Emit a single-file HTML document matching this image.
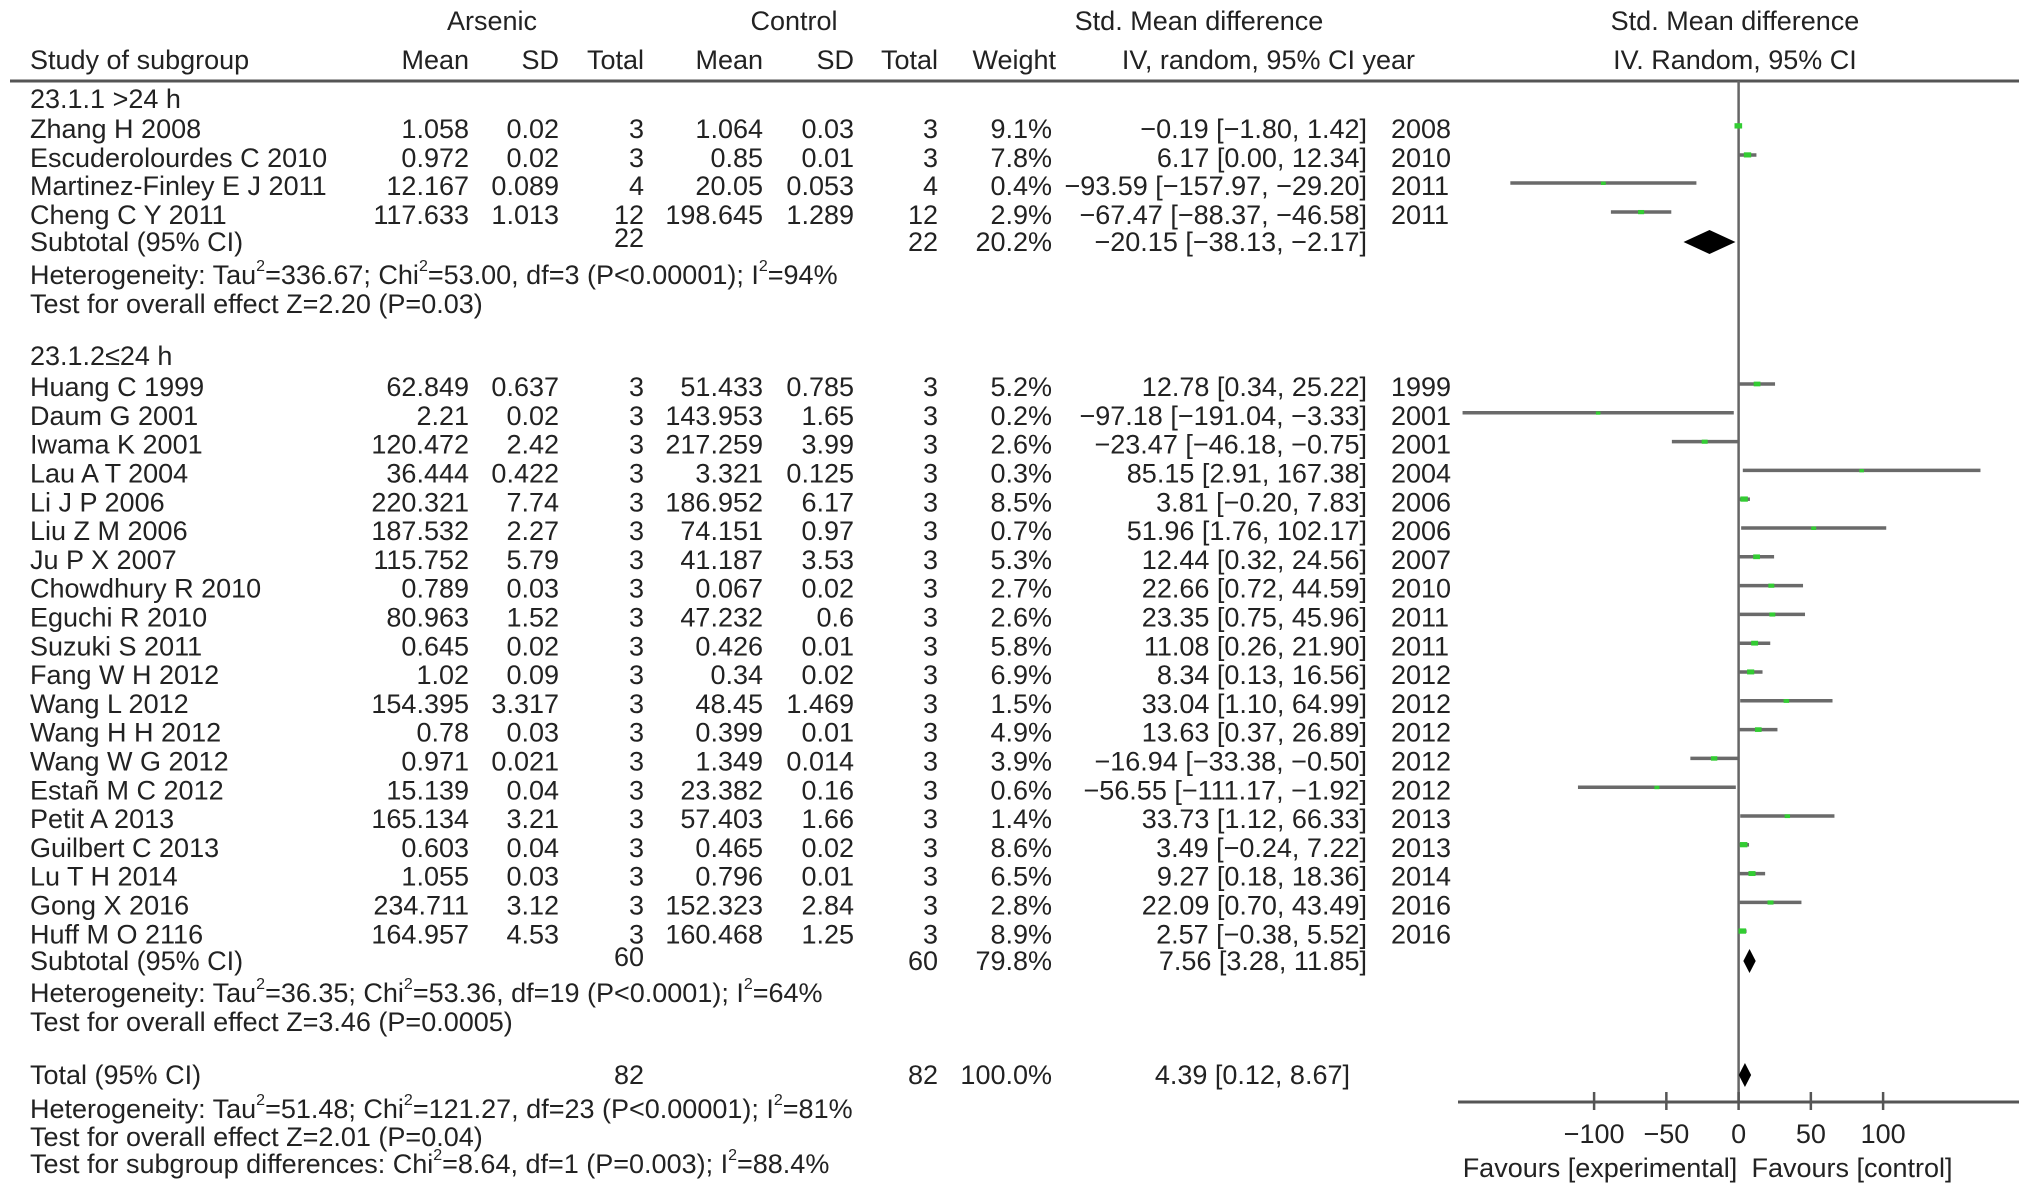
<!DOCTYPE html>
<html><head><meta charset="utf-8"><style>
html,body{margin:0;padding:0;background:#fff;}
svg{display:block;font-family:"Liberation Sans",Arial,sans-serif;}
text{fill:#222;font-size:27px;}
</style></head><body>
<svg id="fp" width="2032" height="1197" viewBox="0 0 2032 1197"></svg>
<script>
const studies=["Zhang H 2008","Escuderolourdes C 2010","Martinez-Finley E J 2011","Cheng C Y 2011",
"Huang C 1999","Daum G 2001","Iwama K 2001","Lau A T 2004","Li J P 2006","Liu Z M 2006","Ju P X 2007","Chowdhury R 2010","Eguchi R 2010","Suzuki S 2011","Fang W H 2012","Wang L 2012","Wang H H 2012","Wang W G 2012","Estañ M C 2012","Petit A 2013","Guilbert C 2013","Lu T H 2014","Gong X 2016","Huff M O 2116"];
const aMean=["1.058","0.972","12.167","117.633","62.849","2.21","120.472","36.444","220.321","187.532","115.752","0.789","80.963","0.645","1.02","154.395","0.78","0.971","15.139","165.134","0.603","1.055","234.711","164.957"];
const aSD=["0.02","0.02","0.089","1.013","0.637","0.02","2.42","0.422","7.74","2.27","5.79","0.03","1.52","0.02","0.09","3.317","0.03","0.021","0.04","3.21","0.04","0.03","3.12","4.53"];
const aN=[3,3,4,12,3,3,3,3,3,3,3,3,3,3,3,3,3,3,3,3,3,3,3,3];
const cMean=["1.064","0.85","20.05","198.645","51.433","143.953","217.259","3.321","186.952","74.151","41.187","0.067","47.232","0.426","0.34","48.45","0.399","1.349","23.382","57.403","0.465","0.796","152.323","160.468"];
const cSD=["0.03","0.01","0.053","1.289","0.785","1.65","3.99","0.125","6.17","0.97","3.53","0.02","0.6","0.01","0.02","1.469","0.01","0.014","0.16","1.66","0.02","0.01","2.84","1.25"];
const cN=[3,3,4,12,3,3,3,3,3,3,3,3,3,3,3,3,3,3,3,3,3,3,3,3];
const weights=[9.1,7.8,0.4,2.9,5.2,0.2,2.6,0.3,8.5,0.7,5.3,2.7,2.6,5.8,6.9,1.5,4.9,3.9,0.6,1.4,8.6,6.5,2.8,8.9];
const est=[-0.19,6.17,-93.59,-67.47,12.78,-97.18,-23.47,85.15,3.81,51.96,12.44,22.66,23.35,11.08,8.34,33.04,13.63,-16.94,-56.55,33.73,3.49,9.27,22.09,2.57];
const lo=[-1.80,0.00,-157.97,-88.37,0.34,-191.04,-46.18,2.91,-0.20,1.76,0.32,0.72,0.75,0.26,0.13,1.10,0.37,-33.38,-111.17,1.12,-0.24,0.18,0.70,-0.38];
const hi=[1.42,12.34,-29.20,-46.58,25.22,-3.33,-0.75,167.38,7.83,102.17,24.56,44.59,45.96,21.90,16.56,64.99,26.89,-0.50,-1.92,66.33,7.22,18.36,43.49,5.52];
const years=[2008,2010,2011,2011,1999,2001,2001,2004,2006,2006,2007,2010,2011,2011,2012,2012,2012,2012,2012,2013,2013,2014,2016,2016];
const summaryLabels=["Subtotal (95% CI)","Subtotal (95% CI)","Total (95% CI)"];
const summaryN=[22,60,82];
const summaryW=["20.2%","79.8%","100.0%"];
const summaryEst=[-20.15,7.56,4.39];
const summaryLo=[-38.13,3.28,0.12];
const summaryHi=[-2.17,11.85,8.67];
const ticks=[-100,-50,0,50,100];

const svg=document.getElementById('fp');
const NS='http://www.w3.org/2000/svg';
const X0=1738.6, PX=1.445;
function xs(v){return X0+v*PX;}
function fmt(v){return (v<0?'\u2212':'')+Math.abs(v).toFixed(2);}
function el(tag,attrs,txt){const e=document.createElementNS(NS,tag);for(const k in attrs)e.setAttribute(k,attrs[k]);if(txt!==undefined)e.textContent=txt;svg.appendChild(e);return e;}
function t(x,y,s,anchor,name){const e=el('text',{x:x,y:y,'text-anchor':anchor||'start','dominant-baseline':'middle'},s);


return e;}
function tsup(x,y,parts,name){const e=el('text',{x:x,y:y,'dominant-baseline':'middle'});


parts.forEach(p=>{const s=document.createElementNS(NS,'tspan');if(p[1]){s.setAttribute('font-size','16');s.setAttribute('dy','-10');}else if(p[2]){s.setAttribute('dy','10');}s.textContent=p[0];e.appendChild(s);});return e;}

// headers
t(492,23,"Arsenic","middle","arsenic-header");
t(794,23,"Control","middle","control-header");
t(1199,23,"Std. Mean difference","middle","smd-header");
t(1735,23,"Std. Mean difference","middle","plot-header");
t(30,62,"Study of subgroup","start","study-header");
t(469,62,"Mean","end","arsenic-mean-header");t(559,62,"SD","end","arsenic-sd-header");t(644,62,"Total","end","arsenic-total-header");
t(763,62,"Mean","end","control-mean-header");t(854,62,"SD","end","control-sd-header");t(938,62,"Total","end","control-total-header");
t(1056,62,"Weight","end","weight-header");t(1415,62,"IV, random, 95% CI year","end","ci-header");
t(1735,62,"IV. Random, 95% CI","middle","plot-subheader");
let hl=el('line',{x1:10,y1:81,x2:2019,y2:81,stroke:'#555','stroke-width':3});



let zl=el('line',{x1:xs(0),y1:81,x2:xs(0),y2:1102,stroke:'#666','stroke-width':2.5});



const rowY=[131,160,188,217].concat(Array.from({length:20},(_,i)=>389+i*28.8));
t(30,101,"23.1.1 >24 h","start","subgroup-1-title");
t(30,358,"23.1.2\u226424 h","start","subgroup-2-title");
for(let i=0;i<studies.length;i++){
  const y=rowY[i];
  t(30,y,studies[i],"start","study-name");
  t(469,y,aMean[i],"end","arsenic-mean");t(559,y,aSD[i],"end","arsenic-sd");t(644,y,aN[i],"end","arsenic-total");
  t(763,y,cMean[i],"end","control-mean");t(854,y,cSD[i],"end","control-sd");t(938,y,cN[i],"end","control-total");
  t(1052,y,weights[i].toFixed(1)+"%","end","weight");
  t(1367,y,fmt(est[i])+" ["+fmt(lo[i])+", "+fmt(hi[i])+"]","end","ci-text");
  t(1391,y,years[i],"start","year");
  const ly=y-5;
  const ci=el('line',{x1:xs(lo[i]),y1:ly,x2:xs(hi[i]),y2:ly,stroke:'#6a6a6a','stroke-width':3.5});
  
  
  const s=4+Math.sqrt(weights[i])*1.2;
  const m=el('rect',{x:xs(est[i])-s/2,y:ly-s/2+1,width:s,height:s*0.7,fill:'#33cc33'});
  
  
}
const sumY=[244,963,1077];
const sumH=[12,12,12];
for(let k=0;k<3;k++){
  const y=sumY[k];
  t(30,y,summaryLabels[k],"start","summary-label");
  t(644,y-(k==2?0:4),summaryN[k],"end","summary-arsenic-total");
  t(938,y,summaryN[k],"end","summary-control-total");
  t(1052,y,summaryW[k],"end","summary-weight");
  t(k==2?1350:1367,y,fmt(summaryEst[k])+" ["+fmt(summaryLo[k])+", "+fmt(summaryHi[k])+"]","end","summary-ci-text");
  const dy=y-2;
  const lx=Math.min(xs(summaryLo[k]),xs(summaryEst[k])-5), rx=Math.max(xs(summaryHi[k]),xs(summaryEst[k])+5);
  const d=el('polygon',{points:`${lx},${dy} ${xs(summaryEst[k])},${dy-sumH[k]} ${rx},${dy} ${xs(summaryEst[k])},${dy+sumH[k]}`,fill:'#000'});
  
  
}
tsup(30,277,[["Heterogeneity: Tau"],["2",1],["=336.67; Chi",0,1],["2",1],["=53.00, df=3 (P<0.00001); I",0,1],["2",1],["=94%",0,1]],"heterogeneity-1");
t(30,306,"Test for overall effect Z=2.20 (P=0.03)","start","overall-effect-1");
tsup(30,995,[["Heterogeneity: Tau"],["2",1],["=36.35; Chi",0,1],["2",1],["=53.36, df=19 (P<0.0001); I",0,1],["2",1],["=64%",0,1]],"heterogeneity-2");
t(30,1024,"Test for overall effect Z=3.46 (P=0.0005)","start","overall-effect-2");
tsup(30,1111,[["Heterogeneity: Tau"],["2",1],["=51.48; Chi",0,1],["2",1],["=121.27, df=23 (P<0.00001); I",0,1],["2",1],["=81%",0,1]],"heterogeneity-total");
t(30,1139,"Test for overall effect Z=2.01 (P=0.04)","start","overall-effect-total");
tsup(30,1166,[["Test for subgroup differences: Chi"],["2",1],["=8.64, df=1 (P=0.003); I",0,1],["2",1],["=88.4%",0,1]],"subgroup-differences");

let ax=el('line',{x1:1458,y1:1102,x2:2019,y2:1102,stroke:'#555','stroke-width':3});


ticks.forEach(v=>{
  const tk=el('line',{x1:xs(v),y1:1092,x2:xs(v),y2:1110,stroke:'#555','stroke-width':2.5});
  
  
  t(xs(v),1136,(v<0?'\u2212':'')+Math.abs(v),"middle","x-tick-label");
});
t(1600,1170,"Favours [experimental]","middle","favours-experimental");
t(1852,1170,"Favours [control]","middle","favours-control");
</script>
</body></html>
